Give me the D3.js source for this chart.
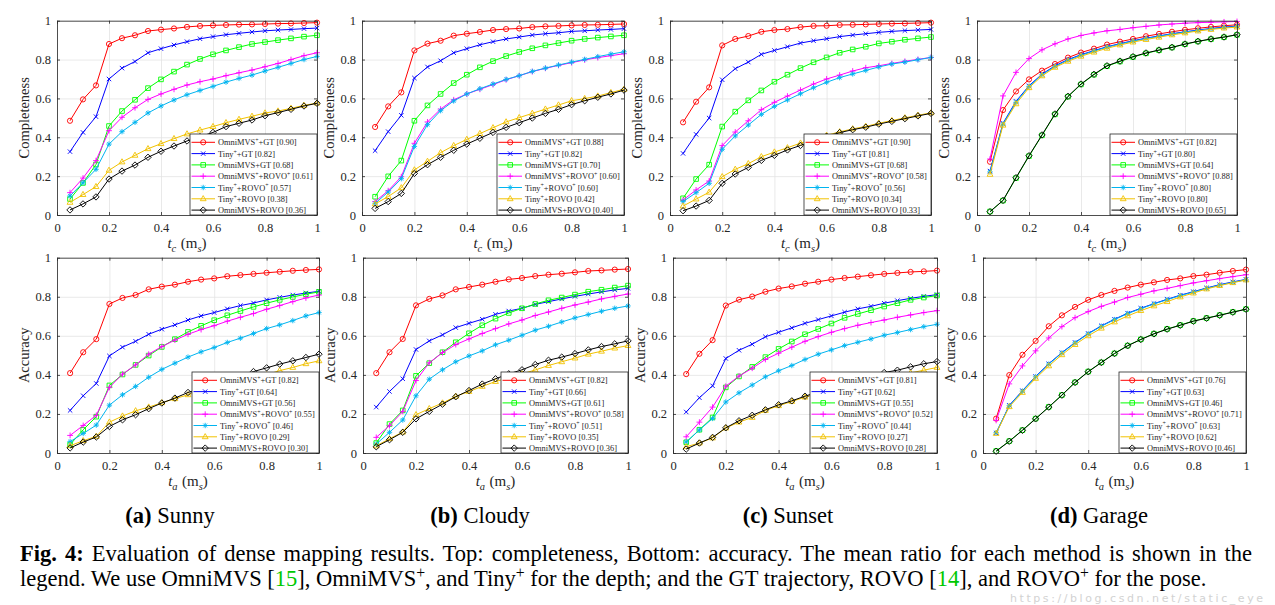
<!DOCTYPE html>
<html>
<head>
<meta charset="utf-8">
<script src="https://cdn.jsdelivr.net/npm/d3@7"></script>
<style>
body { margin: 0; background: #fff; }
svg { display: block; font-family: "Liberation Serif", "Times New Roman", serif; }
</style>
</head>
<body>
<svg id="fig" width="1275" height="605"></svg>
<script>
// ---- data ----
const tValues = [0.05, 0.10, 0.15, 0.20, 0.25, 0.30, 0.35, 0.40, 0.45, 0.50,
                 0.55, 0.60, 0.65, 0.70, 0.75, 0.80, 0.85, 0.90, 0.95, 1.00];
const axisTicks = [0, 0.2, 0.4, 0.6, 0.8, 1];
// '^' toggles superscript
const methodLabels = ['OmniMVS^+^+GT', 'Tiny^+^+GT', 'OmniMVS+GT', 'OmniMVS^+^+ROVO^+',
                      'Tiny^+^+ROVO^+', 'Tiny^+^+ROVO', 'OmniMVS+ROVO'];
const sceneTags = ['(a)', '(b)', '(c)', '(d)'];
const sceneNames = ['Sunny', 'Cloudy', 'Sunset', 'Garage'];

// mean ratio shown in legends
const meanComp = [
  [0.90, 0.82, 0.68, 0.61, 0.57, 0.38, 0.36],
  [0.88, 0.82, 0.70, 0.60, 0.60, 0.42, 0.40],
  [0.90, 0.81, 0.68, 0.58, 0.56, 0.34, 0.33],
  [0.82, 0.80, 0.64, 0.88, 0.80, 0.80, 0.65]
];
const meanAcc = [
  [0.82, 0.64, 0.56, 0.55, 0.46, 0.29, 0.30],
  [0.82, 0.66, 0.61, 0.58, 0.51, 0.35, 0.36],
  [0.81, 0.62, 0.55, 0.52, 0.44, 0.27, 0.28],
  [0.76, 0.63, 0.46, 0.71, 0.63, 0.62, 0.46]
];

// completeness, one row per method (same order as methodLabels)
const compSunny = [
  [0.485,0.595,0.667,0.880,0.910,0.925,0.947,0.954,0.960,0.968,0.973,0.976,0.978,0.980,0.981,0.983,0.985,0.986,0.988,0.990],
  [0.326,0.425,0.506,0.700,0.756,0.790,0.835,0.856,0.875,0.892,0.907,0.918,0.928,0.935,0.942,0.948,0.952,0.955,0.959,0.962],
  [0.082,0.165,0.260,0.458,0.535,0.593,0.653,0.698,0.738,0.774,0.803,0.827,0.847,0.864,0.880,0.890,0.900,0.909,0.918,0.925],
  [0.115,0.190,0.280,0.434,0.503,0.552,0.595,0.623,0.647,0.669,0.686,0.700,0.717,0.732,0.746,0.763,0.780,0.800,0.820,0.835],
  [0.098,0.166,0.235,0.365,0.429,0.477,0.525,0.561,0.592,0.619,0.641,0.662,0.684,0.703,0.720,0.741,0.760,0.780,0.800,0.816],
  [0.065,0.105,0.146,0.230,0.273,0.307,0.341,0.367,0.393,0.417,0.437,0.455,0.475,0.492,0.508,0.525,0.535,0.549,0.564,0.576],
  [0.026,0.057,0.093,0.185,0.226,0.257,0.297,0.328,0.355,0.381,0.403,0.425,0.455,0.472,0.489,0.511,0.527,0.544,0.561,0.575]
];
const compCloudy = [
  [0.453,0.559,0.631,0.847,0.882,0.897,0.923,0.933,0.942,0.952,0.957,0.960,0.967,0.971,0.973,0.976,0.978,0.979,0.981,0.983],
  [0.331,0.429,0.513,0.705,0.762,0.794,0.835,0.856,0.876,0.892,0.906,0.916,0.926,0.933,0.938,0.945,0.948,0.952,0.955,0.959],
  [0.094,0.199,0.280,0.485,0.564,0.623,0.679,0.722,0.760,0.792,0.818,0.839,0.858,0.873,0.885,0.897,0.906,0.913,0.919,0.925],
  [0.069,0.125,0.197,0.369,0.479,0.545,0.593,0.623,0.647,0.671,0.696,0.717,0.738,0.755,0.770,0.784,0.798,0.810,0.820,0.830],
  [0.060,0.118,0.187,0.353,0.465,0.537,0.587,0.623,0.650,0.674,0.698,0.717,0.739,0.756,0.772,0.787,0.801,0.815,0.828,0.840],
  [0.057,0.095,0.140,0.232,0.276,0.321,0.357,0.389,0.419,0.449,0.479,0.501,0.523,0.545,0.566,0.588,0.599,0.612,0.630,0.647],
  [0.034,0.069,0.111,0.214,0.259,0.297,0.333,0.365,0.395,0.425,0.451,0.475,0.499,0.523,0.544,0.568,0.588,0.606,0.623,0.643]
];
const compSunset = [
  [0.477,0.583,0.657,0.873,0.906,0.921,0.943,0.952,0.957,0.967,0.973,0.974,0.978,0.979,0.981,0.983,0.985,0.986,0.988,0.990],
  [0.317,0.415,0.499,0.696,0.753,0.787,0.827,0.847,0.866,0.885,0.897,0.907,0.918,0.926,0.933,0.940,0.945,0.949,0.952,0.955],
  [0.086,0.185,0.259,0.455,0.532,0.590,0.641,0.686,0.722,0.756,0.786,0.811,0.835,0.852,0.866,0.883,0.892,0.902,0.909,0.916],
  [0.077,0.129,0.175,0.357,0.427,0.485,0.542,0.580,0.612,0.643,0.674,0.700,0.720,0.741,0.758,0.768,0.780,0.791,0.801,0.811],
  [0.069,0.115,0.163,0.338,0.407,0.463,0.518,0.559,0.592,0.624,0.655,0.683,0.707,0.726,0.744,0.762,0.777,0.787,0.799,0.811],
  [0.046,0.082,0.117,0.197,0.235,0.264,0.300,0.324,0.346,0.370,0.390,0.410,0.428,0.443,0.456,0.472,0.486,0.500,0.513,0.526],
  [0.022,0.046,0.075,0.163,0.211,0.245,0.281,0.307,0.335,0.358,0.382,0.405,0.424,0.439,0.452,0.468,0.482,0.496,0.510,0.523]
];
const compGarage = [
  [0.274,0.540,0.636,0.698,0.743,0.777,0.810,0.836,0.856,0.877,0.892,0.906,0.920,0.932,0.943,0.953,0.961,0.968,0.974,0.979],
  [0.226,0.472,0.585,0.665,0.725,0.768,0.800,0.825,0.846,0.866,0.882,0.897,0.910,0.922,0.933,0.943,0.952,0.960,0.967,0.972],
  [0.018,0.074,0.190,0.303,0.410,0.518,0.609,0.672,0.722,0.766,0.790,0.813,0.832,0.848,0.862,0.879,0.893,0.905,0.915,0.927],
  [0.288,0.613,0.734,0.805,0.850,0.881,0.906,0.924,0.937,0.948,0.955,0.964,0.971,0.978,0.983,0.987,0.990,0.992,0.994,0.996],
  [0.222,0.468,0.580,0.662,0.722,0.765,0.797,0.822,0.844,0.864,0.880,0.895,0.908,0.920,0.931,0.941,0.950,0.958,0.965,0.970],
  [0.209,0.462,0.572,0.655,0.716,0.760,0.791,0.817,0.838,0.858,0.875,0.890,0.903,0.915,0.927,0.937,0.947,0.955,0.962,0.967],
  [0.017,0.075,0.192,0.305,0.412,0.520,0.611,0.674,0.724,0.768,0.792,0.815,0.834,0.849,0.863,0.880,0.894,0.906,0.916,0.928]
];

// accuracy
const accSunny = [
  [0.409,0.516,0.583,0.763,0.794,0.809,0.838,0.852,0.862,0.877,0.888,0.894,0.905,0.911,0.917,0.923,0.928,0.933,0.937,0.940],
  [0.218,0.293,0.356,0.497,0.542,0.572,0.608,0.634,0.656,0.681,0.702,0.719,0.738,0.755,0.768,0.784,0.797,0.809,0.819,0.828],
  [0.043,0.119,0.186,0.346,0.402,0.451,0.499,0.543,0.583,0.620,0.651,0.680,0.705,0.727,0.748,0.767,0.784,0.799,0.813,0.825],
  [0.090,0.141,0.193,0.336,0.404,0.451,0.506,0.545,0.578,0.608,0.632,0.652,0.675,0.695,0.714,0.736,0.755,0.775,0.794,0.809],
  [0.058,0.100,0.143,0.245,0.298,0.341,0.388,0.428,0.460,0.491,0.518,0.540,0.566,0.588,0.612,0.637,0.656,0.678,0.702,0.719],
  [0.037,0.063,0.085,0.158,0.189,0.216,0.235,0.257,0.278,0.298,0.318,0.335,0.352,0.370,0.385,0.400,0.422,0.438,0.457,0.472],
  [0.026,0.056,0.082,0.136,0.170,0.196,0.227,0.256,0.281,0.310,0.330,0.352,0.375,0.395,0.417,0.436,0.455,0.472,0.489,0.506]
];
const accCloudy = [
  [0.409,0.516,0.584,0.756,0.789,0.807,0.838,0.850,0.862,0.877,0.889,0.896,0.906,0.913,0.918,0.925,0.932,0.935,0.939,0.942],
  [0.235,0.315,0.380,0.530,0.574,0.605,0.642,0.664,0.685,0.710,0.727,0.741,0.761,0.775,0.789,0.802,0.814,0.825,0.835,0.843],
  [0.051,0.148,0.218,0.395,0.460,0.516,0.567,0.613,0.654,0.688,0.717,0.741,0.763,0.782,0.796,0.811,0.826,0.836,0.847,0.857],
  [0.080,0.140,0.213,0.371,0.462,0.514,0.555,0.584,0.612,0.637,0.661,0.681,0.704,0.722,0.741,0.758,0.773,0.789,0.802,0.814],
  [0.046,0.106,0.169,0.293,0.378,0.426,0.467,0.497,0.523,0.554,0.578,0.603,0.629,0.649,0.671,0.692,0.709,0.726,0.741,0.753],
  [0.036,0.073,0.107,0.196,0.227,0.256,0.290,0.315,0.341,0.366,0.385,0.405,0.425,0.448,0.467,0.486,0.506,0.521,0.537,0.550],
  [0.032,0.068,0.106,0.175,0.213,0.250,0.288,0.320,0.353,0.380,0.405,0.426,0.453,0.475,0.491,0.509,0.528,0.545,0.559,0.574]
];
const accSunset = [
  [0.404,0.508,0.578,0.755,0.785,0.801,0.826,0.842,0.853,0.867,0.877,0.888,0.896,0.903,0.910,0.917,0.922,0.927,0.930,0.934],
  [0.210,0.283,0.344,0.484,0.526,0.557,0.595,0.618,0.641,0.664,0.683,0.702,0.721,0.738,0.751,0.767,0.780,0.792,0.802,0.811],
  [0.055,0.119,0.182,0.336,0.392,0.441,0.491,0.533,0.571,0.608,0.635,0.663,0.692,0.712,0.731,0.750,0.767,0.784,0.796,0.806],
  [0.083,0.158,0.235,0.342,0.394,0.434,0.479,0.511,0.542,0.572,0.596,0.618,0.637,0.654,0.668,0.681,0.695,0.707,0.719,0.729],
  [0.056,0.118,0.177,0.261,0.308,0.348,0.390,0.421,0.448,0.479,0.506,0.528,0.550,0.567,0.584,0.603,0.617,0.632,0.647,0.659],
  [0.032,0.051,0.077,0.128,0.158,0.182,0.218,0.242,0.264,0.286,0.305,0.322,0.338,0.353,0.367,0.381,0.395,0.410,0.424,0.438],
  [0.020,0.051,0.080,0.129,0.165,0.193,0.221,0.247,0.267,0.291,0.312,0.332,0.352,0.372,0.392,0.412,0.424,0.441,0.457,0.468]
];
const accGarage = [
  [0.176,0.399,0.503,0.574,0.649,0.705,0.748,0.784,0.809,0.830,0.847,0.862,0.874,0.886,0.894,0.906,0.913,0.923,0.932,0.939],
  [0.102,0.244,0.319,0.392,0.457,0.514,0.566,0.612,0.651,0.685,0.716,0.741,0.765,0.787,0.808,0.826,0.845,0.862,0.876,0.889],
  [0.010,0.061,0.117,0.176,0.236,0.297,0.362,0.417,0.464,0.510,0.550,0.582,0.611,0.635,0.655,0.676,0.691,0.706,0.722,0.737],
  [0.167,0.354,0.446,0.523,0.589,0.647,0.693,0.724,0.751,0.773,0.796,0.813,0.830,0.843,0.857,0.871,0.882,0.893,0.903,0.913],
  [0.104,0.242,0.317,0.390,0.455,0.512,0.564,0.610,0.649,0.683,0.714,0.739,0.763,0.785,0.806,0.824,0.843,0.860,0.874,0.887],
  [0.100,0.237,0.310,0.382,0.446,0.503,0.555,0.600,0.639,0.671,0.702,0.729,0.753,0.775,0.799,0.819,0.840,0.857,0.872,0.886],
  [0.009,0.060,0.116,0.175,0.235,0.296,0.361,0.416,0.463,0.509,0.549,0.581,0.610,0.634,0.654,0.675,0.690,0.705,0.721,0.736]
];

// ---- styles / layout ----
const seriesColor = ['#ff0000', '#0000ff', '#00ff00', '#ff00ff', '#00b4f0', '#f2c200', '#000000'];
const seriesMarker = ['circle', 'x', 'square', 'plus', 'star', 'triangle', 'diamond'];
const axisColor = '#262626';

// [left, top, right, bottom] of each axes box
const topBoxes = [[57, 20.7, 317, 215], [362, 20.7, 624, 215], [670, 20.7, 931, 215], [977, 20.7, 1237, 215]];
const bottomBoxes = [[57, 257.7, 319, 453], [363, 257.7, 628, 453], [673, 257.7, 937, 453], [983, 257.7, 1246, 453]];
const subCaptionX = [170, 480, 788, 1099];

const svg = d3.select('#fig');

function markerPath(type) {
  switch (type) {
    case 'circle': return 'M2.6,0A2.6,2.6 0 1,1 -2.6,0A2.6,2.6 0 1,1 2.6,0Z';
    case 'x': return 'M-2.2,-2.2L2.2,2.2M-2.2,2.2L2.2,-2.2';
    case 'square': return 'M-2.3,-2.3H2.3V2.3H-2.3Z';
    case 'plus': return 'M-2.9,0H2.9M0,-2.9V2.9';
    case 'star': return 'M-2.7,0H2.7M0,-2.7V2.7M-1.9,-1.9L1.9,1.9M-1.9,1.9L1.9,-1.9';
    case 'triangle': return 'M0,-3.2L2.9,1.9H-2.9Z';
    case 'diamond': return 'M0,-3.2L3.2,0L0,3.2L-3.2,0Z';
  }
}

// parts: [[text, 'flags']] flags among sup sub it b green gap
function richText(sel, parts, size) {
  let shift = 0;
  parts.forEach(([txt, kind]) => {
    const f = new Set((kind || '').split(' '));
    const ts = sel.append('tspan').text(txt);
    let target = 0;
    if (f.has('sup')) { target = -0.36 * size; ts.attr('font-size', size * 0.7); }
    if (f.has('sub')) { target = 0.24 * size; ts.attr('font-size', size * 0.7); }
    if (target !== shift) { ts.attr('dy', target - shift); shift = target; }
    if (f.has('it')) ts.attr('font-style', 'italic');
    if (f.has('b')) ts.attr('font-weight', 'bold');
    if (f.has('green')) ts.attr('fill', '#00c800');
    if (f.has('gap')) ts.attr('dx', size * 0.3);
  });
}

function labelParts(label) {
  return label.split('^').map((s, i) => [s, i % 2 ? 'sup' : '']);
}

function drawPanel(box, series, means, ylabel, sub) {
  const [x0, y0, x1, y1] = box;
  const x = d3.scaleLinear().domain([0, 1]).range([x0, x1]);
  const y = d3.scaleLinear().domain([0, 1]).range([y1, y0]);
  const g = svg.append('g');
  const fmt = d => String(+d.toFixed(1));

  // grid
  g.append('g').attr('transform', `translate(0,${y1})`)
    .call(d3.axisBottom(x).tickValues(axisTicks).tickSize(-(y1 - y0)).tickFormat(''))
    .call(a => a.select('.domain').remove())
    .selectAll('line').attr('stroke', '#e3e3e3').attr('stroke-width', 0.8);
  g.append('g').attr('transform', `translate(${x0},0)`)
    .call(d3.axisLeft(y).tickValues(axisTicks).tickSize(-(x1 - x0)).tickFormat(''))
    .call(a => a.select('.domain').remove())
    .selectAll('line').attr('stroke', '#e3e3e3').attr('stroke-width', 0.8);

  // series
  const line = d3.line().x((d, i) => x(tValues[i])).y(d => y(d));
  series.forEach((vals, k) => {
    g.append('path').attr('d', line(vals)).attr('fill', 'none')
      .attr('stroke', seriesColor[k]).attr('stroke-width', 1);
    g.append('g').selectAll('path').data(vals).join('path')
      .attr('d', markerPath(seriesMarker[k]))
      .attr('transform', (d, i) => `translate(${x(tValues[i])},${y(d)})`)
      .attr('fill', 'none').attr('stroke', seriesColor[k]).attr('stroke-width', 0.9);
  });

  // axes (ticks inside)
  const styleAxis = a => {
    a.select('.domain').attr('stroke', axisColor).attr('stroke-width', 0.8);
    a.selectAll('line').attr('stroke', axisColor).attr('stroke-width', 0.8);
    a.selectAll('text').attr('fill', axisColor).attr('font-size', 12.5)
      .attr('font-family', '"Liberation Serif", serif');
  };
  g.append('g').attr('transform', `translate(0,${y1})`)
    .call(d3.axisBottom(x).tickValues(axisTicks).tickSize(-3).tickSizeOuter(0).tickPadding(8.5).tickFormat(fmt))
    .call(styleAxis);
  g.append('g').attr('transform', `translate(${x0},0)`)
    .call(d3.axisLeft(y).tickValues(axisTicks).tickSize(-3).tickSizeOuter(0).tickPadding(6).tickFormat(fmt))
    .call(styleAxis);
  g.append('g').attr('transform', `translate(0,${y0})`)
    .call(d3.axisTop(x).tickValues(axisTicks).tickSize(-3).tickSizeOuter(0).tickFormat(''))
    .call(styleAxis);
  g.append('g').attr('transform', `translate(${x1},0)`)
    .call(d3.axisRight(y).tickValues(axisTicks).tickSize(-3).tickSizeOuter(0).tickFormat(''))
    .call(styleAxis);

  // axis labels
  g.append('text').attr('transform', `translate(${x0 - 28},${(y0 + y1) / 2}) rotate(-90)`)
    .attr('text-anchor', 'middle').attr('font-size', 14.5).attr('fill', axisColor).text(ylabel);
  const xl = g.append('text').attr('x', (x0 + x1) / 2).attr('y', y1 + 33)
    .attr('text-anchor', 'middle').attr('font-size', 15).attr('fill', axisColor);
  richText(xl, [['t', 'it'], [sub, 'sub it'], ['(m', 'gap'], ['s', 'sub it'], [')', '']], 15);

  // legend
  const rowH = 11.3, fs = 8.4;
  const lg = g.append('g');
  const frame = lg.append('rect').attr('fill', '#fff').attr('stroke', axisColor).attr('stroke-width', 0.8);
  let maxW = 0;
  methodLabels.forEach((lab, k) => {
    const cy = 8.3 + k * rowH;
    lg.append('line').attr('x1', 1.5).attr('x2', 25).attr('y1', cy).attr('y2', cy)
      .attr('stroke', seriesColor[k]).attr('stroke-width', 1);
    lg.append('path').attr('d', markerPath(seriesMarker[k]))
      .attr('transform', `translate(13.2,${cy})`)
      .attr('fill', 'none').attr('stroke', seriesColor[k]).attr('stroke-width', 0.9);
    const t = lg.append('text').attr('x', 28).attr('y', cy + 3).attr('font-size', fs).attr('fill', axisColor)
      .style('white-space', 'pre');
    richText(t, labelParts(lab).concat([[' [' + means[k].toFixed(2) + ']', '']]), fs);
    maxW = Math.max(maxW, t.node().getComputedTextLength());
  });
  const w = Math.round(28 + maxW + 4), h = 81;
  frame.attr('width', w).attr('height', h);
  lg.attr('transform', `translate(${x1 - w},${y1 - h})`);
}

const compSets = [compSunny, compCloudy, compSunset, compGarage];
const accSets = [accSunny, accCloudy, accSunset, accGarage];
compSets.forEach((s, i) => drawPanel(topBoxes[i], s, meanComp[i], 'Completeness', 'c'));
accSets.forEach((s, i) => drawPanel(bottomBoxes[i], s, meanAcc[i], 'Accuracy', 'a'));

// caption: second line sets the font size (it ends near x = 1207), first line is justified
const cap2Parts = [['legend. We use OmniMVS [', ''], ['15', 'green'], ['], OmniMVS', ''], ['+', 'sup'],
  [', and Tiny', ''], ['+', 'sup'], [' for the depth; and the GT trajectory, ROVO [', ''], ['14', 'green'],
  ['], and ROVO', ''], ['+', 'sup'], [' for the pose.', '']];
const probe = svg.append('text').attr('font-size', 20).style('white-space', 'pre');
richText(probe, cap2Parts, 20);
const capSize = 20 * 1187 / probe.node().getComputedTextLength();
probe.remove();

const cap2 = svg.append('text').attr('x', 20).attr('y', 586).attr('font-size', capSize)
  .attr('fill', '#000').style('white-space', 'pre');
richText(cap2, cap2Parts, capSize);
const cap1 = svg.append('text').attr('x', 20).attr('y', 561).attr('font-size', capSize)
  .attr('fill', '#000').style('white-space', 'pre');
richText(cap1, [['Fig. 4:', 'b'],
  [' Evaluation of dense mapping results. Top: completeness, Bottom: accuracy. The mean ratio for each method is shown in the', '']], capSize);
const w1 = cap1.node().getComputedTextLength();
const spaces = cap1.text().split(' ').length - 1;
cap1.attr('word-spacing', Math.max(0, (1232 - w1) / spaces));

// sub-captions
sceneNames.forEach((name, i) => {
  const t = svg.append('text').attr('x', subCaptionX[i]).attr('y', 523)
    .attr('text-anchor', 'middle').attr('font-size', capSize).attr('fill', '#000').style('white-space', 'pre');
  richText(t, [[sceneTags[i], 'b'], [' ' + name, '']], capSize);
});

// watermark, kept just below the caption's last line
svg.append('text').attr('x', 1010).attr('y', 602).attr('font-size', 11)
  .attr('font-family', '"DejaVu Sans", sans-serif').attr('fill', '#c8c8c8').attr('opacity', 0.8)
  .attr('textLength', 253).text('https://blog.csdn.net/static_eye');
</script>
</body>
</html>
